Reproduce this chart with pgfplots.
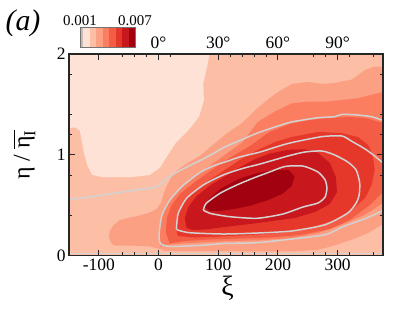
\documentclass[border=0pt]{standalone}
\usepackage{fontspec}
\setmainfont{Liberation Serif}
\usepackage{amsmath}
\usepackage{pgfplots}
\pgfplotsset{compat=1.18}
\definecolor{cA}{RGB}{254,226,213}
\definecolor{cB}{RGB}{252,190,165}
\definecolor{cC}{RGB}{252,160,131}
\definecolor{cD}{RGB}{251,126,97}
\definecolor{cE}{RGB}{244,93,69}
\definecolor{cF}{RGB}{230,55,43}
\definecolor{cG}{RGB}{200,23,29}
\definecolor{cH}{RGB}{162,2,16}
\definecolor{cLine}{RGB}{210,210,210}
\definecolor{cStripe}{RGB}{200,188,180}
\begin{document}
\begin{tikzpicture}[x=1bp,y=1bp]
\begin{axis}[
  at={(0bp,0bp)}, anchor=south west,
  width=314bp, height=201.7bp, scale only axis,
  xmin=-150, xmax=376, ymin=0, ymax=2,
  xtick={-100,0,100,200,300}, xticklabels={-100,0,100,200,300},
  ytick={0,1,2}, yticklabels={0,1,2},
  minor xtick={-60,-40,-20,20,120,140,160,180,260,280,320,360},
  minor ytick={0.4,0.8,1.2,1.4,1.8},
  xtick pos=bottom, ytick pos=both, yticklabel pos=left,
  tick align=inside,
  axis on top,
  axis line style={black!85, line width=1.2bp},
  every tick/.style={black!85, line width=1bp},
  major tick length=6bp, minor tick length=3.5bp,
  tick label style={font=\fontsize{17.5}{20}\selectfont},
  xlabel={ξ},
  ylabel={η / $\overline{\text{η}_{\text{I}}}$},
  xlabel style={font=\fontsize{28}{30}\selectfont, at={(axis description cs:0.505,-0.16)}, anchor=center},
  ylabel style={font=\fontsize{24}{28}\selectfont, at={(axis description cs:-0.142,0.5)}, anchor=center},
]
% background level
\addplot[fill=cB, draw=none] coordinates {(-150,0) (376,0) (376,2) (-150,2)} --cycle;
% lightest level
\addplot[fill=cA, draw=none] coordinates {
(-150,2) (85,2) (83,1.92) (75,1.71) (76,1.54) (68,1.38) (51,1.25) (29,1.12) (18,1.02)
(2,0.87) (-15,0.80) (-44,0.78) (-94,0.78) (-111,0.80) (-119,0.89) (-125,1.02) (-129,1.15)
(-132,1.24) (-139,1.27) (-145,1.27) (-150,1.26)} --cycle;
% level 2
\addplot[fill=cC, draw=none] coordinates {
(-78,0.116) (-83,0.176) (-82,0.245) (-75,0.304) (-65,0.354) (-51,0.374) (-31,0.399)
(-15,0.428) (-3,0.464) (4,0.523) (8,0.602) (13,0.683) (21,0.772) (32,0.850) (47,0.914)
(69,0.989) (91,1.098) (113,1.207) (140,1.316) (166,1.465) (195,1.604) (223,1.703)
(250,1.723) (274,1.703) (295,1.713) (324,1.747) (346,1.841) (362,1.876) (376,1.871)
(376,0.314) (351,0.225) (324,0.159) (290,0.093) (267,0.059) (223,0.042) (11,0.047)
(2,0.066) (-15,0.091) (-48,0.101) (-73,0.101)} --cycle;
% level 3
\addplot[fill=cD, draw=none] coordinates {
(4,0.086) (0.5,0.205) (4,0.374) (12,0.503) (24,0.592) (52,0.751) (81,0.870) (113,1.008)
(141,1.127) (166,1.326) (195,1.430) (223,1.511) (250,1.527) (279,1.527) (307,1.544)
(334,1.561) (362,1.603) (376,1.623)
(376,0.523) (346,0.407) (307,0.307) (267,0.225) (223,0.176) (166,0.153) (111,0.143)
(69,0.131) (27,0.116) (7,0.101)} --cycle;
% level 4
\addplot[fill=cE, draw=none] coordinates {
(19,0.116) (12,0.235) (14,0.374) (22,0.503) (36,0.612) (61,0.731) (89,0.850) (119,0.969)
(153,1.088) (186,1.227) (220,1.306) (253,1.346) (287,1.366) (320,1.375) (346,1.366)
(376,1.316) (376,0.632) (354,0.503) (320,0.354) (287,0.265) (237,0.205) (186,0.180)
(136,0.171) (86,0.161) (44,0.146) (22,0.126)} --cycle;
% level 5
\addplot[fill=cF, draw=none] coordinates {
(32,0.195) (29,0.304) (32,0.423) (44,0.552) (61,0.651) (86,0.751) (111,0.850) (136,0.949)
(166,1.048) (195,1.127) (223,1.177) (267,1.227) (307,1.217) (334,1.177) (351,1.098)
(359,0.999) (362,0.850) (357,0.701) (346,0.572) (324,0.453) (295,0.354) (253,0.275)
(203,0.225) (153,0.205) (103,0.190) (61,0.180)} --cycle;
% level 6
\addplot[fill=cG, draw=none] coordinates {
(47,0.275) (44,0.374) (50,0.483) (64,0.592) (86,0.695) (111,0.785) (136,0.875) (161,0.955)
(186,1.012) (217,1.050) (245,1.055) (267,1.020) (287,0.919) (297,0.780) (299,0.632)
(287,0.513) (262,0.433) (228,0.374) (190,0.344) (153,0.314) (111,0.285) (78,0.260)
(58,0.255)} --cycle;
% level 7
\addplot[fill=cH, draw=none] coordinates {
(78,0.480) (84,0.560) (104,0.665) (134,0.760) (166,0.820) (195,0.850) (218,0.850)
(228,0.785) (223,0.691) (208,0.615) (183,0.550) (153,0.495) (128,0.465) (104,0.445)
(86,0.445)} --cycle;
% contour lines
\addplot[draw=cLine, line width=1.5bp, smooth, tension=0.4] coordinates {
(-150,0.557) (-98,0.597) (-43,0.647) (-3,0.681) (7,0.731) (22,0.800) (46,0.875) (68,0.939)
(89,1.004) (111,1.078) (136,1.142) (166,1.217) (195,1.276) (223,1.326) (267,1.368)
(295,1.378) (307,1.402) (334,1.395) (357,1.378) (376,1.341)};
\addplot[draw=cLine, line width=1.5bp, smooth, tension=0.4] coordinates {
(376,0.448) (354,0.387) (334,0.341) (309,0.288) (279,0.208) (220,0.163) (165,0.129)
(111,0.121) (80,0.106) (24,0.091) (7,0.106) (2,0.136) (1,0.222) (5,0.387) (12,0.483)
(19,0.552) (29,0.622) (41,0.696) (68,0.820) (91,0.889) (114,0.934) (136,0.979) (170,1.028)
(217,1.113) (273,1.180) (307,1.187) (323,1.137) (346,1.058) (362,0.989) (376,0.919)};
\addplot[draw=cLine, line width=1.5bp, smooth, tension=0.4] coordinates {
(30,0.272) (33,0.420) (47,0.569) (75,0.701) (108,0.800) (142,0.867) (170,0.909) (217,0.989)
(245,1.028) (274,1.038) (295,0.999) (317,0.929) (331,0.850) (337,0.721) (336,0.602)
(331,0.522) (317,0.423) (279,0.307) (223,0.245) (166,0.225) (108,0.215) (52,0.228)
(32,0.255) (30,0.272)};
\addplot[draw=cLine, line width=1.5bp, smooth, tension=0.4] coordinates {
(75,0.453) (80,0.520) (103,0.619) (131,0.701) (159,0.770) (186,0.830) (212,0.885)
(242,0.889) (267,0.830) (279,0.751) (282,0.671) (279,0.582) (267,0.522) (242,0.483)
(208,0.413) (165,0.371) (119,0.387) (86,0.420) (75,0.453)};
\addplot[draw=cLine, line width=1.5bp] coordinates {(-150,0.022) (376,0.022)};
\end{axis}
% top axis in degrees
\begin{axis}[
  at={(0bp,0bp)}, anchor=south west,
  width=314bp, height=201.7bp, scale only axis,
  xmin=-150, xmax=376, ymin=0, ymax=2,
  axis x line*=top, axis y line=none,
  xtick={-100,0,100,200,300}, xticklabels={,0°,30°,60°,90°},
  minor xtick={-60,-40,-20,20,120,140,160,180,260,280,320,360},
  xtick align=inside,
  axis line style={black!85, line width=1.2bp},
  every tick/.style={black!85, line width=1bp},
  major tick length=6bp, minor tick length=3.5bp,
  tick label style={font=\fontsize{17.5}{20}\selectfont},
  xticklabel style={yshift=2bp},
]
\end{axis}
% colour bar
\begin{axis}[
  at={(11bp,208bp)}, anchor=south west,
  width=55bp, height=20bp, scale only axis,
  xmin=0.001, xmax=0.007, ymin=0, ymax=1,
  scaled x ticks=false,
  xtick={0.001,0.007}, xticklabels={0.001,0.007},
  xticklabel pos=upper, ytick=\empty,
  major tick length=0pt,
  axis on top,
  axis line style={black!55, line width=0.8bp},
  tick label style={font=\fontsize{15}{16}\selectfont},
  xticklabel style={yshift=-2bp},
]
\addplot[fill=cStripe, draw=none] coordinates {(0.001,0) (0.00133,0) (0.00133,1) (0.001,1)} --cycle;
\addplot[fill=cA, draw=none] coordinates {(0.00133,0) (0.00204,0) (0.00204,1) (0.00133,1)} --cycle;
\addplot[fill=cB, draw=none] coordinates {(0.00204,0) (0.00275,0) (0.00275,1) (0.00204,1)} --cycle;
\addplot[fill=cC, draw=none] coordinates {(0.00275,0) (0.00346,0) (0.00346,1) (0.00275,1)} --cycle;
\addplot[fill=cD, draw=none] coordinates {(0.00346,0) (0.00417,0) (0.00417,1) (0.00346,1)} --cycle;
\addplot[fill=cE, draw=none] coordinates {(0.00417,0) (0.00488,0) (0.00488,1) (0.00417,1)} --cycle;
\addplot[fill=cF, draw=none] coordinates {(0.00488,0) (0.00559,0) (0.00559,1) (0.00488,1)} --cycle;
\addplot[fill=cG, draw=none] coordinates {(0.00559,0) (0.00630,0) (0.00630,1) (0.00559,1)} --cycle;
\addplot[fill=cH, draw=none] coordinates {(0.00630,0) (0.00700,0) (0.00700,1) (0.00630,1)} --cycle;
\end{axis}
\node[font=\fontsize{30}{32}\selectfont\itshape] at (-46bp,232.7bp) {(a)};
\path (-69bp,-55.3bp) rectangle (338bp,255.7bp);
\end{tikzpicture}
\end{document}
